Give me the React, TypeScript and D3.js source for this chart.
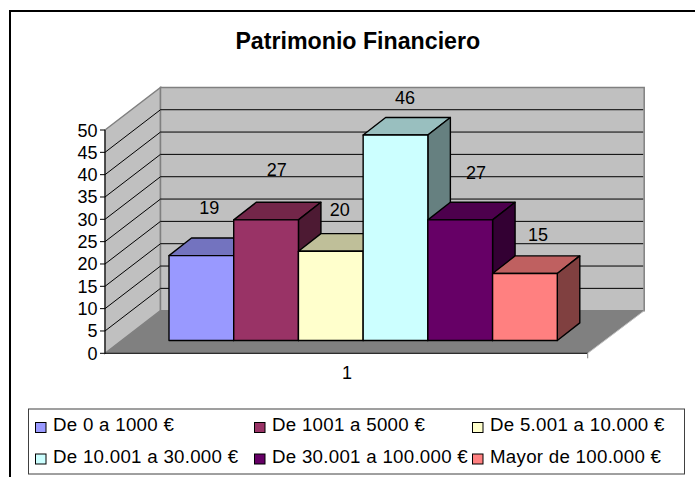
import React from "react";
import * as d3 from "d3";

const W = 695, H = 477;
const categories = ["De 0 a 1000 €", "De 1001 a 5000 €", "De 5.001 a 10.000 €", "De 10.001 a 30.000 €", "De 30.001 a 100.000 €", "Mayor de 100.000 €"];
const values = [19, 27, 20, 46, 27, 15];
const colors = ["#9999ff", "#993366", "#ffffcc", "#ccffff", "#660066", "#ff8080"];
const topColors = ["#7373bf", "#732649", "#bfbf99", "#99bfbf", "#4d004d", "#bf6060"];
const sideColors = ["#4d4d80", "#4d1a33", "#808066", "#668080", "#330033", "#804040"];
const yTicks = d3.range(0, 51, 5);
const xLabel = "1";
const title = "Patrimonio Financiero";
// label anchor offsets from each bar's top-centre, in px
const labelDx = [8, 10.7, 9, 9.5, 15.7, 13];
const labelDy = [-47.7, -50.5, -41.5, -38, -47.5, -39];

const y = d3.scaleLinear().domain([0, 50]).range([353.3, 130]);
const wallDx = 55.5, wallDy = -42.6;
const barBaseY = 340.5;
const barY = (v: number) => barBaseY - (y(0) - y(v));
const x = d3.scaleBand<number>().domain(d3.range(6)).range([169, 557.3]).padding(0);
const bdx = 22.5, bdy = -17.6;
const font = "'Liberation Sans', Arial, sans-serif";

const poly = (pts: [number, number][]) => d3.line()(pts)! + "Z";

export default function App() {
  const x0 = 105, x1 = 587.7;
  const bw = x.bandwidth();
  return (
    <svg width={W} height={H} style={{ position: "absolute", left: 0, top: 0, background: "#fff" }} fontFamily={font}>
      <path d={`M10,${H + 2}V11H${W + 2}`} fill="none" stroke="#000" strokeWidth={2} />
      <text x={357.8} y={48.5} textAnchor="middle" fontSize={23.2} fontWeight="bold" fill="#000">{title}</text>

      {/* walls & floor */}
      <path d={poly([[x0, y(50)], [x0 + wallDx, y(50) + wallDy], [x0 + wallDx, y(0) + wallDy], [x0, y(0)]])} fill="#c0c0c0" stroke="#808080" strokeWidth={1.5} />
      <path d={poly([[x0 + wallDx, y(50) + wallDy], [x1 + wallDx + 1, y(50) + wallDy], [x1 + wallDx + 1, y(0) + wallDy], [x0 + wallDx, y(0) + wallDy]])} fill="#c0c0c0" stroke="#808080" strokeWidth={1.5} />
      <path d={poly([[x0, y(0)], [x0 + wallDx, y(0) + wallDy], [x1 + wallDx + 1, y(0) + wallDy], [x1, y(0)]])} fill="#808080" />
      {yTicks.filter(t => t > 0 && t < 50).map(t => (
        <path key={t} d={`M${x0},${y(t)}L${x0 + wallDx},${y(t) + wallDy}L${x1 + wallDx},${y(t) + wallDy}`} fill="none" stroke="#000" strokeWidth={1} />
      ))}
      {/* axes */}
      <path d={`M${x0},${y(50)}V${y(0)}H${x1}`} fill="none" stroke="#000" strokeWidth={1} />
      <path d={`M${x1},${y(0)}V${y(0) + 5}`} stroke="#808080" strokeWidth={1} />
      <path d={`M${x1},${y(0)}L${x1 + wallDx + 1},${y(0) + wallDy}`} stroke="#c0c0c0" strokeWidth={1} />
      {yTicks.map(t => (
        <g key={t}>
          <line x1={x0 - 5} x2={x0} y1={y(t)} y2={y(t)} stroke="#000" />
          <text x={x0 - 7.5} y={y(t) + 6.5} textAnchor="end" fontSize={18} fill="#000">{t}</text>
        </g>
      ))}
      <text x={347} y={379} textAnchor="middle" fontSize={18} fill="#000">{xLabel}</text>

      {/* bars */}
      {values.map((v, i) => {
        const l = x(i)!, r = l + bw, t = barY(v), b = barBaseY;
        return (
          <g key={i} stroke="#000" strokeWidth={1.4} strokeLinejoin="round">
            <path d={poly([[l, t], [l + bdx, t + bdy], [r + bdx, t + bdy], [r, t]])} fill={topColors[i]} />
            <path d={poly([[r, t], [r + bdx, t + bdy], [r + bdx, b + bdy], [r, b]])} fill={sideColors[i]} />
            <rect x={l} y={t} width={bw} height={b - t} fill={colors[i]} />
          </g>
        );
      })}
      {values.map((v, i) => (
        <text key={i} x={x(i)! + bw / 2 + labelDx[i]} y={barY(v) + labelDy[i] + 6.5} textAnchor="middle" fontSize={18} fill="#000">{v}</text>
      ))}

      {/* legend */}
      <rect x={28.5} y={409} width={656} height={65} fill="#fff" stroke="#404040" strokeWidth={1} />
      {categories.map((c, i) => {
        const col = i % 3, row = Math.floor(i / 3);
        const lx = [35.5, 254.5, 472.5][col];
        const ly = [425, 456.5][row];
        return (
          <g key={i}>
            <rect x={lx} y={ly - 2.5} width={10.5} height={10} fill={colors[i]} stroke="#000" strokeWidth={1} />
            <text x={lx + 17.5} y={ly + 6.3} fontSize={18.7} letterSpacing={0.28} fill="#000">{c}</text>
          </g>
        );
      })}
    </svg>
  );
}
